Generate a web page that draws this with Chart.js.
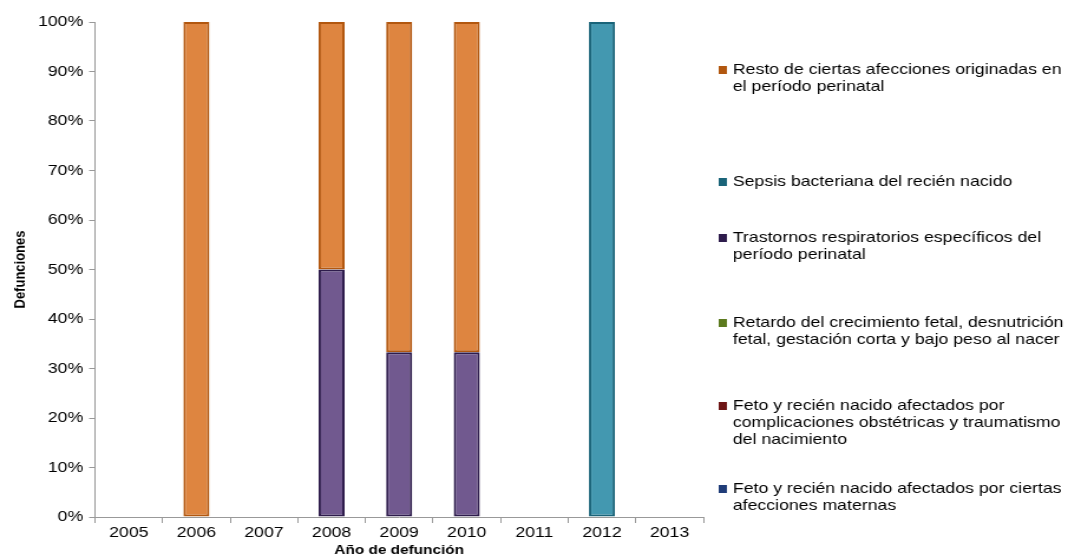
<!DOCTYPE html>
<html>
<head>
<meta charset="utf-8">
<script src="https://cdn.jsdelivr.net/npm/chart.js@4/dist/chart.umd.min.js"></script>
<style>
  html, body { margin: 0; padding: 0; background: #fff; overflow: hidden; }
  /* the chart is laid out on a narrower canvas and widened, which gives the broad lettering */
  #wrap { width: 905px; height: 558px; transform: scaleX(1.1801); transform-origin: 0 0; }
</style>
</head>
<body>
<div id="wrap"><canvas id="c" width="905" height="558"></canvas></div>
<script>
// Años de defunción
const years = ['2005', '2006', '2007', '2008', '2009', '2010', '2011', '2012', '2013'];

// Porcentaje de defunciones por causa (cada año suma 100 %)
const fetoMaternas       = [0, 0, 0, 0, 0, 0, 0, 0, 0];
const fetoComplicaciones = [0, 0, 0, 0, 0, 0, 0, 0, 0];
const retardoCrecimiento = [0, 0, 0, 0, 0, 0, 0, 0, 0];
const trastornosResp     = [0, 0, 0, 50, 33.3, 33.3, 0, 0, 0];
const sepsisBacteriana   = [0, 0, 0, 0, 0, 0, 0, 100, 0];
const restoAfecciones    = [0, 100, 0, 50, 66.7, 66.7, 0, 0, 0];

const yTicks = [0, 10, 20, 30, 40, 50, 60, 70, 80, 90, 100];

const series = [
  { label: ['Feto y recién nacido afectados por ciertas', 'afecciones maternas'],
    data: fetoMaternas, fill: '#4F6FA8', edge: '#1F3C78', key: '#1F3C78', ly: 489 },
  { label: ['Feto y recién nacido afectados por', 'complicaciones obstétricas y traumatismo', 'del nacimiento'],
    data: fetoComplicaciones, fill: '#A84A4A', edge: '#6E1616', key: '#6E1616', ly: 406 },
  { label: ['Retardo del crecimiento fetal, desnutrición', 'fetal, gestación corta y bajo peso al nacer'],
    data: retardoCrecimiento, fill: '#8CAA48', edge: '#5C7A1E', key: '#5C7A1E', ly: 323 },
  { label: ['Trastornos respiratorios específicos del', 'período perinatal'],
    data: trastornosResp, fill: '#71598F', edge: '#2E1C4C', key: '#2E1C4C', ly: 238 },
  { label: ['Sepsis bacteriana del recién nacido'],
    data: sepsisBacteriana, fill: '#4398B0', edge: '#1A6479', key: '#1A6479', ly: 182 },
  { label: ['Resto de ciertas afecciones originadas en', 'el período perinatal'],
    data: restoAfecciones, fill: '#DE8540', edge: '#B2570F', key: '#B2570F', ly: 70 }
];

const FONT = '"Liberation Sans", Arial, sans-serif';

// Leyenda a la derecha, una entrada por causa (de arriba abajo en orden inverso)
const sideLegend = {
  id: 'sideLegend',
  afterDraw(chart) {
    const ctx = chart.ctx;
    const boxX = chart.chartArea.right + 13;
    const textX = boxX + 12;
    ctx.save();
    ctx.font = '15px ' + FONT;
    ctx.textBaseline = 'middle';
    ctx.textAlign = 'left';
    chart.data.datasets.forEach(ds => {
      const y0 = ds.legendY;
      ctx.fillStyle = ds.keyColor;
      ctx.fillRect(boxX, y0 - 4, 7, 8);
      ctx.fillStyle = '#000';
      ds.legendLines.forEach((t, i) => ctx.fillText(t, textX, y0 + i * 17));
    });
    ctx.restore();
  }
};

new Chart(document.getElementById('c'), {
  type: 'bar',
  data: {
    labels: years,
    datasets: series.map(s => ({
      label: s.label.join(' '),
      data: s.data,
      backgroundColor: s.fill,
      borderColor: s.edge,
      borderWidth: 2,
      borderSkipped: false,
      barPercentage: 0.385,
      categoryPercentage: 1,
      keyColor: s.key,
      legendLines: s.label,
      legendY: s.ly
    }))
  },
  options: {
    responsive: false,
    animation: false,
    layout: { padding: { top: 22, right: 309, bottom: 0, left: 0 } },
    plugins: {
      legend: { display: false },
      tooltip: { enabled: false }
    },
    scales: {
      x: {
        stacked: true,
        offset: true,
        grid: { offset: true, drawOnChartArea: false, tickLength: 6, color: '#999', tickColor: '#999' },
        border: { color: '#999', width: 1 },
        ticks: { color: '#000', font: { family: FONT, size: 15 }, padding: 1, maxRotation: 0 },
        title: {
          display: true, text: 'Año de defunción', color: '#000',
          font: { family: FONT, size: 13, weight: 'bold' }, padding: { top: 0, bottom: 0 }
        },
        afterFit(scale) { scale.height = 41; }
      },
      y: {
        stacked: true,
        min: 0, max: 100,
        afterBuildTicks(scale) { scale.ticks = yTicks.map(v => ({ value: v })); },
        grid: { drawOnChartArea: false, tickLength: 5, color: '#999', tickColor: '#999' },
        border: { color: '#999', width: 1 },
        ticks: {
          color: '#000', font: { family: FONT, size: 15 }, padding: 5,
          callback: v => v + '%'
        },
        title: {
          display: true, text: 'Defunciones', color: '#000',
          font: { family: '"Liberation Sans Narrow", "Liberation Sans", Arial, sans-serif', size: 13, weight: 'bold' },
          padding: { top: 10, bottom: 0 }
        },
        afterFit(scale) { scale.width = 80.5; }
      }
    }
  },
  plugins: [sideLegend]
});
</script>
</body>
</html>
